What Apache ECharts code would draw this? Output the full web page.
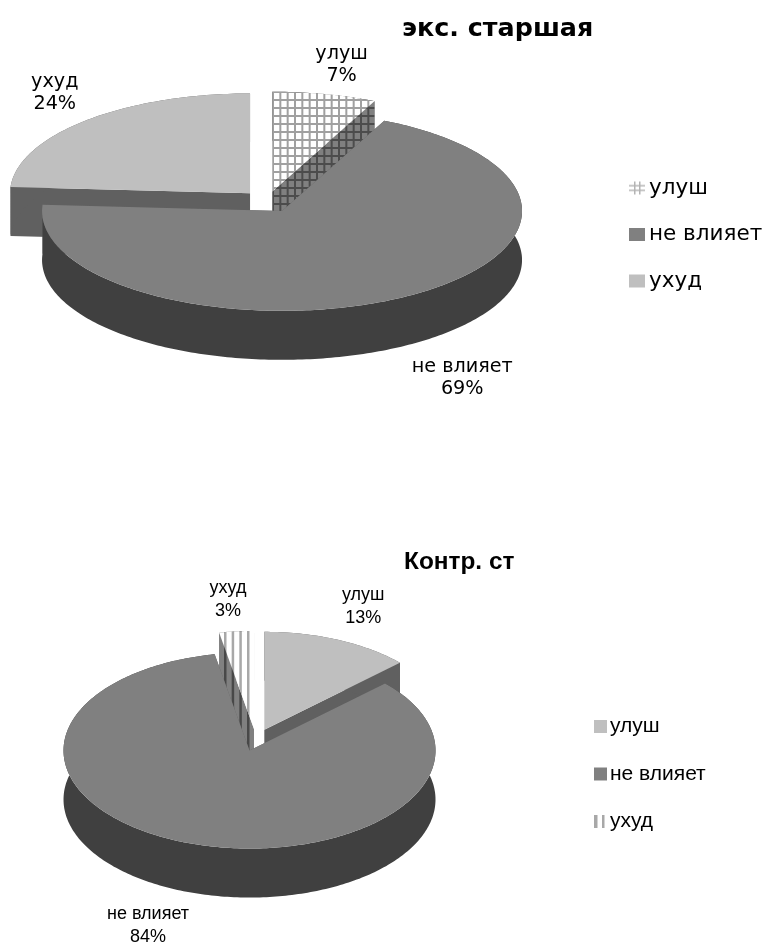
<!DOCTYPE html>
<html>
<head>
<meta charset="utf-8">
<style>html,body{margin:0;padding:0;background:#fff}#chart{width:764px;height:943px}</style>
<script src="https://cdn.jsdelivr.net/npm/echarts@6/dist/echarts.min.js"></script>
</head>
<body>
<div id="chart"></div>
<script>
// Survey shares for each group, in percent
const upperCategories = ['улуш', 'не влияет', 'ухуд'];
const upperValues = [7, 69, 24];
const upperTitle = 'экс. старшая';
const lowerCategories = ['улуш', 'не влияет', 'ухуд'];
const lowerValues = [13, 84, 3];
const lowerTitle = 'Контр. ст';

// Tiled fills for the hatched slices
function tile(w, h, bg, line, lw, stepX, stepY) {
  const c = document.createElement('canvas');
  c.width = w; c.height = h;
  const g = c.getContext('2d');
  g.fillStyle = bg; g.fillRect(0, 0, w, h);
  g.fillStyle = line;
  for (let x = 0; x < w - 0.01; x += stepX) g.fillRect(x, 0, lw, h);
  if (stepY) for (let y = 0; y < h - 0.01; y += stepY) g.fillRect(0, y, w, lw);
  return c;
}
// Small key swatches: explicit bars on a white ground
function keyTile(w, h, bars, color) {
  const c = document.createElement('canvas');
  c.width = w; c.height = h;
  const g = c.getContext('2d');
  g.fillStyle = '#ffffff'; g.fillRect(0, 0, w, h);
  g.fillStyle = color;
  bars.forEach(b => g.fillRect(b[0], b[1], b[2], b[3]));
  return c;
}
const pattern = (canvas, x, y) => ({ image: canvas, repeat: 'repeat', x: x || 0, y: y || 0 });
const gridTop = pattern(tile(22, 24, '#ffffff', '#a0a0a0', 2, 22 / 3, 8), 8, 3);
const gridWall = pattern(tile(22, 24, '#808080', '#4c4c4c', 2, 22 / 3, 8), 8, 3);
const gridKey = pattern(keyTile(16, 13, [[5, 0, 1.5, 13], [10, 0, 1.5, 13], [0, 3.5, 16, 1.5], [0, 8, 16, 1.5]], '#b4b4b4'));
const stripeTop = pattern(tile(23, 8, '#ffffff', '#a8a8a8', 2.5, 23 / 3), 17, 0);
const stripeWall = pattern(tile(23, 8, '#808080', '#484848', 2.5, 23 / 3), 17, 0);
const stripeKey = pattern(keyTile(13, 13, [[0, 0, 3.5, 13], [8, 0, 2.5, 13]], '#a8a8a8'));

const solid = (top, arc, side) => ({ top, arc, side });

// Layout and colours of the two pies; drawOrder paints the front slices last
const upperPie = {
  title: upperTitle, names: upperCategories, values: upperValues,
  cx: 268.4, cy: 201.4, r: 240, squash: 0.416, depth: 49, explode: 26.8,
  labelFont: '19.2px "DejaVu Sans"',
  labelGap: 22,
  sliceShift: [[-2, 1], [0, 0], [0, 0]],
  labelOffsets: [[17, -29], [58, 81], [-31, -27.5]],
  looks: [{ top: gridTop, arc: gridWall, side: gridWall }, solid('#808080', '#404040', '#606060'), solid('#bfbfbf', '#606060', '#606060')],
  drawOrder: [2, 0, 1]
};
const lowerPie = {
  title: lowerTitle, names: lowerCategories, values: lowerValues,
  cx: 256, cy: 740, r: 186, squash: 0.527, depth: 49, explode: 21,
  labelFont: '18px "Liberation Sans"',
  labelGap: 23,
  sliceShift: [[0, 0], [0, 0], [0, 0]],
  labelOffsets: [[25, -33], [-44, 81.5], [-8.5, -32]],
  looks: [solid('#bfbfbf', '#606060', '#606060'), solid('#808080', '#404040', '#606060'), { top: stripeTop, arc: stripeWall, side: stripeWall }],
  drawOrder: [0, 2, 1]
};

function slicePainter(pie, index) {
  return function (params, api) {
    const total = pie.values.reduce((a, b) => a + b, 0);
    const before = pie.values.slice(0, index).reduce((a, b) => a + b, 0);
    const value = api.value(0);
    const rad = d => d * Math.PI / 180;
    const start = before / total * 360, end = (before + value) / total * 360, mid = (start + end) / 2;
    // Exploded centre of this slice, and a rim point in the flattened view
    const ox = pie.cx + pie.explode * Math.sin(rad(mid)) + pie.sliceShift[index][0];
    const oy = pie.cy - pie.explode * pie.squash * Math.cos(rad(mid)) + pie.sliceShift[index][1];
    const rim = a => [ox + pie.r * Math.sin(rad(a)), oy - pie.r * pie.squash * Math.cos(rad(a))];
    const arc = [];
    for (let a = start; a < end; a += 1) arc.push(rim(a));
    arc.push(rim(end));
    const down = p => [p[0], p[1] + pie.depth];
    const look = pie.looks[index];
    const wall = (a, b, fill) => ({
      type: 'polygon', shape: { points: [a, b, down(b), down(a)] }, style: { fill }
    });
    const tip = [ox, oy];
    const label = rim(mid);
    const offset = pie.labelOffsets[index];
    const children = [
      wall(tip, rim(start), look.side),
      wall(tip, rim(end), look.side),
      { type: 'polygon', shape: { points: arc.concat(arc.map(down).reverse()) }, style: { fill: look.arc } },
      { type: 'polygon', shape: { points: [tip].concat(arc) }, style: { fill: look.top } },
      {
        type: 'text', z2: 10,
        style: {
          text: pie.names[index] + '\n' + value + '%',
          x: label[0] + offset[0], y: label[1] + offset[1],
          font: pie.labelFont, lineHeight: pie.labelGap,
          align: 'center', verticalAlign: 'middle', fill: '#000'
        }
      }
    ];
    return { type: 'group', children };
  };
}

const seriesFor = pie => pie.drawOrder.map(i => ({
  type: 'custom', name: pie.names[i], coordinateSystem: 'none', silent: true,
  clip: false, data: [[pie.values[i]]], renderItem: slicePainter(pie, i)
}));

const chart = echarts.init(document.getElementById('chart'), null, { renderer: 'canvas' });
chart.setOption({
  backgroundColor: '#ffffff',
  animation: false,
  tooltip: { show: false },
  title: [
    { text: upperPie.title, left: 397, top: 12, textStyle: { fontFamily: 'DejaVu Sans', fontWeight: 'bold', fontSize: 25.4, color: '#000' } },
    { text: lowerPie.title, left: 399, top: 545, textStyle: { fontFamily: 'Liberation Sans', fontWeight: 'bold', fontSize: 24.4, color: '#000' } }
  ],
  legend: [
    {
      orient: 'vertical', left: 624, top: 172, itemWidth: 16, itemHeight: 13, itemGap: 24.5, selectedMode: false,
      textStyle: { fontFamily: 'DejaVu Sans', fontSize: 21.5, color: '#000', padding: [0, 0, 0, -1] },
      data: [
        { name: upperCategories[0], icon: 'rect', itemStyle: { color: gridKey } },
        { name: upperCategories[1], icon: 'rect', itemStyle: { color: '#808080' } },
        { name: upperCategories[2], icon: 'rect', itemStyle: { color: '#bfbfbf' } }
      ]
    },
    {
      orient: 'vertical', left: 589, top: 711, itemWidth: 13, itemHeight: 13, itemGap: 26.5, selectedMode: false,
      textStyle: { fontFamily: 'Liberation Sans', fontSize: 21, color: '#000', padding: [0, 0, 0, -2] },
      data: [
        { name: lowerCategories[0], icon: 'rect', itemStyle: { color: '#bfbfbf' } },
        { name: lowerCategories[1], icon: 'rect', itemStyle: { color: '#808080' } },
        { name: lowerCategories[2], icon: 'rect', itemStyle: { color: stripeKey } }
      ]
    }
  ],
  series: seriesFor(upperPie).concat(seriesFor(lowerPie))
});
</script>
</body>
</html>
